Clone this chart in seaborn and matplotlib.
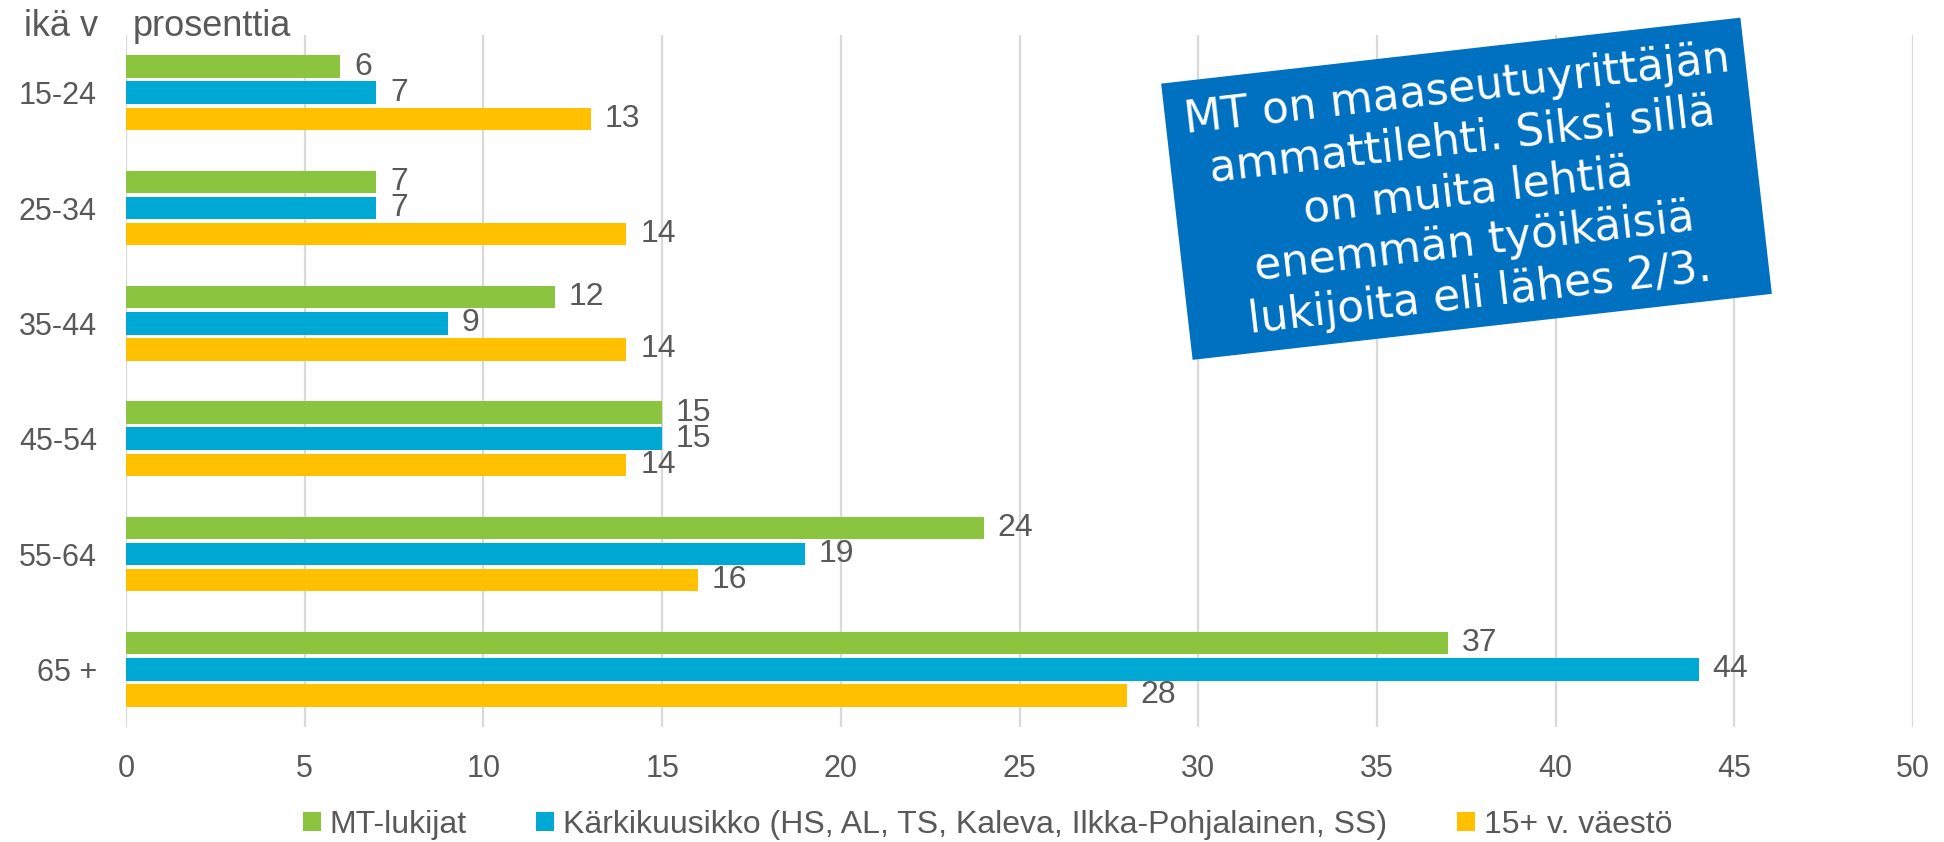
import matplotlib
matplotlib.use("Agg")
import matplotlib.pyplot as plt
from matplotlib.patches import Rectangle, Patch
from matplotlib.transforms import Affine2D
import pandas as pd
import seaborn as sns

# ---- data ----
categories = ["15-24", "25-34", "35-44", "45-54", "55-64", "65 +"]
series_names = ["MT-lukijat",
                "Kärkikuusikko (HS, AL, TS, Kaleva, Ilkka-Pohjalainen, SS)",
                "15+ v. väestö"]
mt_lukijat = [6, 7, 12, 15, 24, 37]
karkikuusikko = [7, 7, 9, 15, 19, 44]
vaesto = [13, 14, 14, 14, 16, 28]
colors = ["#8BC540", "#00A9D4", "#FFC000"]
x_ticks = [0, 5, 10, 15, 20, 25, 30, 35, 40, 45, 50]
note = ("MT on maaseutuyrittäjän\nammattilehti. Siksi sillä\non muita lehtiä\n"
        "enemmän työikäisiä\nlukijoita eli lähes 2/3.")

df = pd.DataFrame({
    "ikä": categories * 3,
    "sarja": [series_names[0]] * 6 + [series_names[1]] * 6 + [series_names[2]] * 6,
    "arvo": mt_lukijat + karkikuusikko + vaesto,
})

sns.set_style("white")
plt.rcParams["font.family"] = ["Liberation Sans", "DejaVu Sans"]
TXT = "#595959"

W, H, DPI = 1944, 842, 100
fig = plt.figure(figsize=(W / DPI, H / DPI), dpi=DPI)
ax = fig.add_axes([126 / W, 1 - 727 / H, (1913 - 126) / W, (727 - 35) / H])

sns.barplot(data=df, y="ikä", x="arvo", hue="sarja", orient="h",
            palette=dict(zip(series_names, colors)), width=0.677, gap=0.14,
            saturation=1, linewidth=0, legend=False, ax=ax, order=categories,
            hue_order=series_names)

for cont in ax.containers:
    ax.bar_label(cont, padding=10, fontsize=23, color=TXT)

ax.set_xlim(0, 50)
ax.set_ylim(5.5, -0.5)
ax.set_xticks(x_ticks)
ax.grid(axis="x", color="#D9D9D9", linewidth=1.6)
ax.grid(axis="y", visible=False)
ax.set_axisbelow(True)
for s in ax.spines.values():
    s.set_visible(False)
ax.tick_params(axis="x", length=0, pad=19.5, labelsize=22, labelcolor=TXT)
ax.tick_params(axis="y", length=0, pad=21, labelsize=22, labelcolor=TXT)
ax.set_xlabel("")
ax.set_ylabel("")

fig.text(24 / W, 1 - 36 / H, "ikä v", fontsize=26, color=TXT, ha="left", va="baseline")
fig.text(133 / W, 1 - 36 / H, "prosenttia", fontsize=26, color=TXT, ha="left", va="baseline")

# legend entries positioned separately
leg_x = [303, 536, 1457]
for name, col, lx in zip(series_names, colors, leg_x):
    fig.legend(handles=[Patch(facecolor=col, edgecolor="none", label=name)],
               loc="center left", bbox_to_anchor=(lx / W, 1 - 825 / H),
               frameon=False, fontsize=23, borderpad=0, borderaxespad=0,
               handlelength=0.55, handleheight=0.55, handletextpad=0.28,
               labelcolor=TXT)

# rotated annotation box
cx, cy = 1466.5, H - 188.75
bw, bh, ang = 583, 278, 6.5
rect = Rectangle((cx - bw / 2, cy - bh / 2), bw, bh, facecolor="#0070C0",
                 edgecolor="none", zorder=5)
rect.set_transform(Affine2D().rotate_deg_around(cx, cy, ang))
fig.add_artist(rect)
fig.text((cx + 2) / W, (cy - 3) / H, note, rotation=ang, rotation_mode="anchor",
         ha="center", va="center", multialignment="center", color="white",
         fontsize=31.5, family="DejaVu Sans", linespacing=1.25, zorder=6)

fig.savefig("out.png", dpi=DPI)
